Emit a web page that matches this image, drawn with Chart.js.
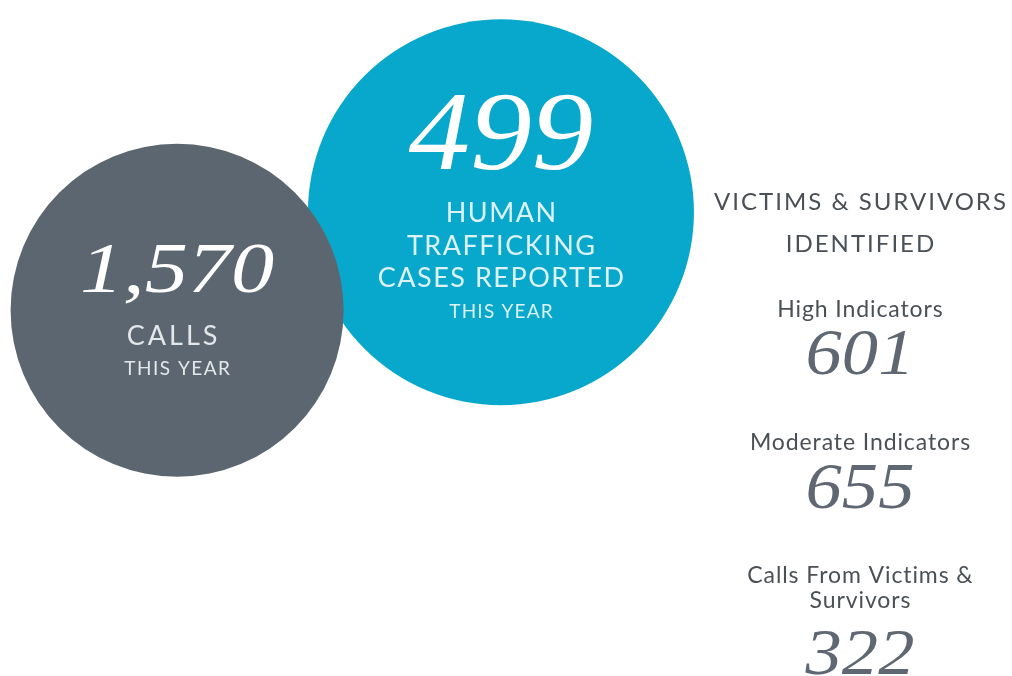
<!DOCTYPE html>
<html>
<head>
<meta charset="utf-8">
<script src="https://cdn.jsdelivr.net/npm/chart.js@4/dist/chart.umd.min.js"></script>
<style>
  body { margin: 0; background: #ffffff; }
  #wrap { position: relative; width: 1012px; height: 676px; }
</style>
</head>
<body>
<div id="wrap"><canvas id="stats-chart"></canvas></div>
<script>
// Data
const circleNames = ['Calls', 'Human Trafficking Cases Reported'];
const circleValues = [1570, 499];
const circleCaptions = [['CALLS'], ['HUMAN', 'TRAFFICKING', 'CASES REPORTED']];
const circleSubCaption = 'THIS YEAR';

const panelTitle = ['VICTIMS & SURVIVORS', 'IDENTIFIED'];
const panelLabels = [['High Indicators'], ['Moderate Indicators'], ['Calls From Victims &', 'Survivors']];
const panelValues = [601, 655, 322];

// Layout (scale units 0-100 on both axes, radius in px)
const bubbleLayout = [
    { x: 17.5, y: 54.1, r: 166.5, color: '#5b6670' },
    { x: 49.5, y: 68.6, r: 193, color: '#07a8cc' }
];

const numFont = size => 'italic 400 ' + size + 'px "Liberation Serif", serif';
const sansFont = size => '400 ' + size + 'px Lato, "Noto Sans", sans-serif';

// centred text, with optional horizontal stretch and letter spacing
function drawText(ctx, text, x, y, fontStr, color, stretch, spacing) {
    stretch = stretch || 1;
    spacing = spacing || 0;
    ctx.save();
    ctx.font = fontStr;
    ctx.fillStyle = color;
    ctx.textAlign = 'center';
    ctx.textBaseline = 'alphabetic';
    ctx.letterSpacing = spacing + 'px';
    ctx.translate(x, y);
    ctx.scale(stretch, 1);
    ctx.fillText(text, spacing / 2, 0);
    ctx.restore();
}

// --------- plugin: writes the captions inside the circles and the side panel
const textPlugin = {
    id: 'statText',
    afterDatasetsDraw(chart) {
        const ctx = chart.ctx;

        // gray circle: calls
        const g = chart.getDatasetMeta(0).data[0];
        drawText(ctx, circleValues[0].toLocaleString('en-US'), g.x, g.y - 18, numFont(72), '#ffffff', 1.2);
        drawText(ctx, circleCaptions[0][0], g.x - 5, g.y + 35, sansFont(27), '#e3e7ea', 1, 3);
        drawText(ctx, circleSubCaption, g.x, g.y + 65, sansFont(19), '#e3e7ea', 1, 1.5);

        // blue circle: cases
        const b = chart.getDatasetMeta(1).data[0];
        drawText(ctx, circleValues[1].toLocaleString('en-US'), b.x, b.y - 43, numFont(112), '#ffffff', 1.1);
        circleCaptions[1].forEach((line, i) => {
            drawText(ctx, line, b.x, b.y + 10 + i * 32.5, sansFont(27), '#dcf2f7', 1, 1.5);
        });
        drawText(ctx, circleSubCaption, b.x, b.y + 106, sansFont(19), '#dcf2f7', 1, 1.2);

        // side panel
        const cx = 860;
        drawText(ctx, panelTitle[0], cx, 210, sansFont(24), '#4a5056', 1, 2);
        drawText(ctx, panelTitle[1], cx, 252, sansFont(24), '#4a5056', 1, 2);

        const labelBase = [317, 450, 583];
        const valueBase = [374, 508, 674];
        panelLabels.forEach((lines, i) => {
            lines.forEach((line, j) => {
                drawText(ctx, line, cx, labelBase[i] + j * 25, sansFont(23), '#4a5056', 1, 0.9);
            });
            drawText(ctx, String(panelValues[i]), cx, valueBase[i], numFont(66), '#5f6872', 1.1);
        });
    }
};

// -------------------- Chart.js code
const ctx = document.getElementById('stats-chart');
const statsChart = new Chart(ctx, {
    type: 'bubble',
    data: {
        labels: circleNames,
        datasets: circleNames.map((name, i) => ({
            label: name,
            data: [{ x: bubbleLayout[i].x, y: bubbleLayout[i].y, r: bubbleLayout[i].r, v: circleValues[i] }],
            backgroundColor: bubbleLayout[i].color,
            borderWidth: 0,
            hoverBorderWidth: 0,
            clip: false
        }))
    },
    options: {
        responsive: true,
        maintainAspectRatio: false,
        animation: false,
        events: [],
        layout: { padding: 0, autoPadding: false },
        scales: {
            x: { display: false, min: 0, max: 100 },
            y: { display: false, min: 0, max: 100 }
        },
        plugins: {
            legend: { display: false },
            tooltip: { enabled: false }
        }
    },
    plugins: [textPlugin]
});
</script>
</body>
</html>
